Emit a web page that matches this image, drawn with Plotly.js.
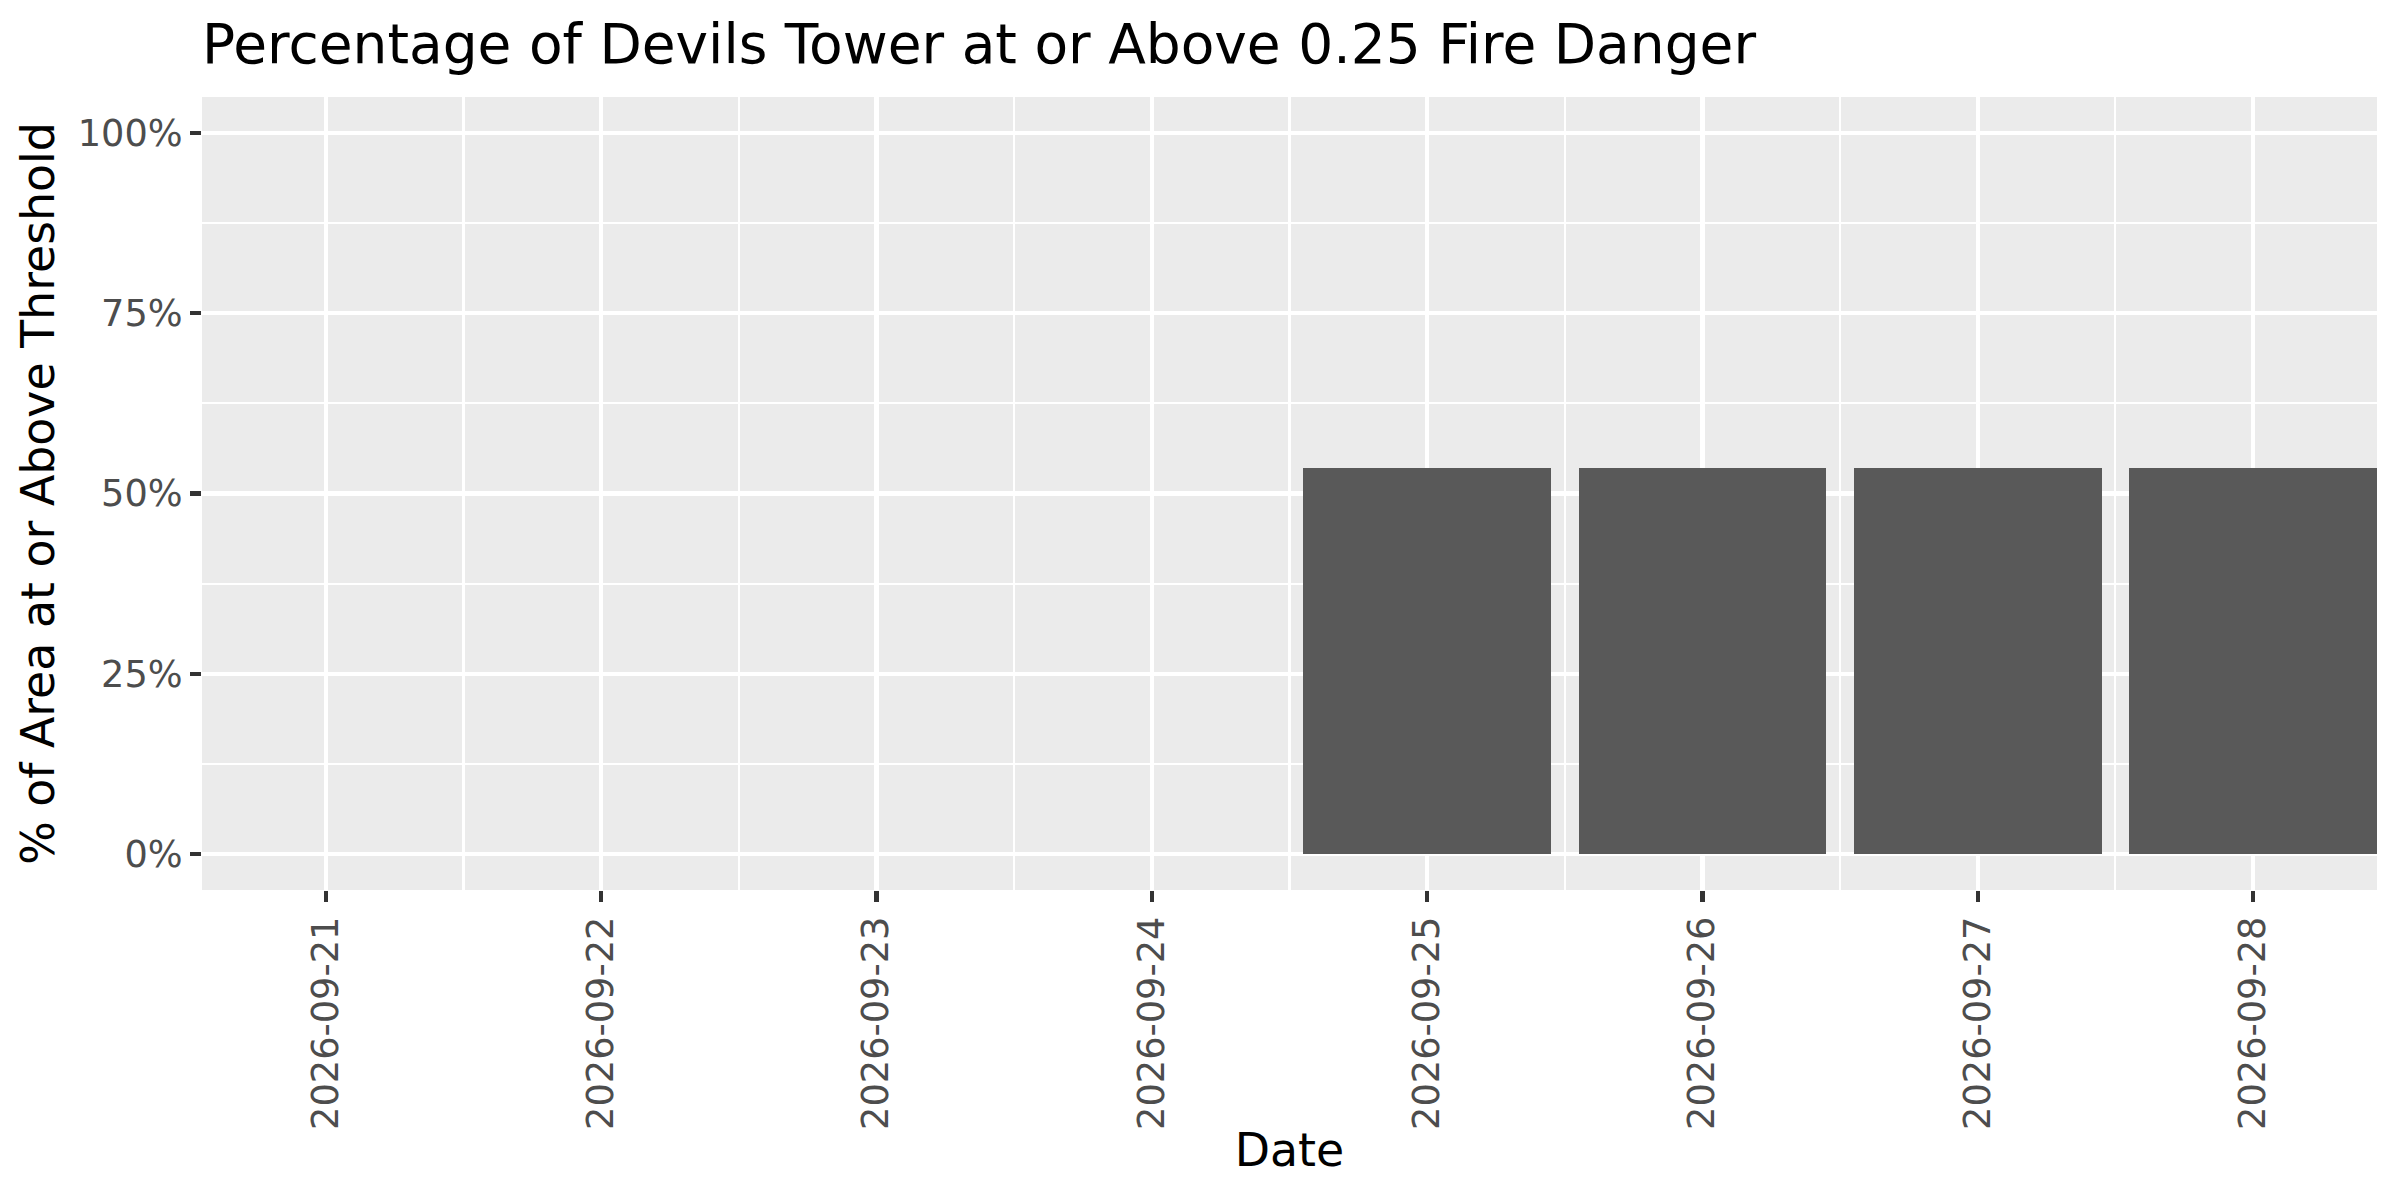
<!DOCTYPE html>
<html>
<head>
<meta charset="utf-8">
<script src="https://cdn.plot.ly/plotly-3.0.1.min.js"></script>
<style>
  html, body { margin: 0; padding: 0; background: #ffffff; }
  #plotly-chart { width: 2400px; height: 1200px; }
</style>
</head>
<body>
<div id="plotly-chart"></div>
<script>
const dates = ['2026-09-21', '2026-09-22', '2026-09-23', '2026-09-24',
               '2026-09-25', '2026-09-26', '2026-09-27', '2026-09-28'];
const pctAbove = [0, 0, 0, 0, 53.5, 53.5, 53.5, 53.5];
const yTickVals = [0, 25, 50, 75, 100];
const yTickText = ['0%', '25%', '50%', '75%', '100%'];

const DAY = 24 * 60 * 60 * 1000;

function drawChart() {
    const bars = {
        x: dates,
        y: pctAbove,
        type: 'bar',
        width: 0.9 * DAY,
        marker: { color: '#595959', line: { width: 0 } },
        hoverinfo: 'skip',
    };

    const tickFont = { family: 'DejaVu Sans', size: 36.7, color: '#4D4D4D' };
    const titleFont = { family: 'DejaVu Sans', size: 45.8, color: '#000000' };

    const layout = {
        width: 2400,
        height: 1200,
        paper_bgcolor: '#ffffff',
        plot_bgcolor: '#EBEBEB',
        margin: { t: 97, r: 23, b: 310, l: 202 },
        showlegend: false,
        bargap: 0,

        title: {
            text: 'Percentage of Devils Tower at or Above 0.25 Fire Danger',
            font: { family: 'DejaVu Sans', size: 55, color: '#000000' },
            xref: 'paper',
            x: 0,
            xanchor: 'left',
            yref: 'container',
            y: 1 - 63 / 1200,
            yanchor: 'bottom',
        },

        xaxis: {
            type: 'date',
            range: ['2026-09-20 13:12', '2026-09-28 10:48'],
            tick0: '2026-09-21',
            dtick: DAY,
            tickformat: '%Y-%m-%d',
            tickangle: -90,
            tickfont: tickFont,
            ticks: 'outside',
            ticklen: 11,
            tickwidth: 4.3,
            tickcolor: '#333333',
            showgrid: true,
            gridcolor: '#ffffff',
            gridwidth: 4.3,
            zeroline: false,
            showline: false,
            automargin: false,
            minor: {
                tick0: '2026-09-20 12:00',
                dtick: DAY,
                showgrid: true,
                gridcolor: '#ffffff',
                gridwidth: 2.1,
                ticks: '',
            },
            title: { text: 'Date', font: titleFont, standoff: 5 },
        },
        yaxis: {
            range: [-5, 105],
            tickvals: yTickVals,
            ticktext: yTickText,
            tickfont: tickFont,
            ticks: 'outside',
            ticklen: 11,
            tickwidth: 4.3,
            tickcolor: '#333333',
            showgrid: true,
            gridcolor: '#ffffff',
            gridwidth: 4.3,
            zeroline: false,
            showline: false,
            automargin: false,
            minor: {
                tick0: 12.5,
                dtick: 25,
                showgrid: true,
                gridcolor: '#ffffff',
                gridwidth: 2.1,
                ticks: '',
            },
            title: { text: '% of Area at or Above Threshold', font: titleFont, standoff: 8 },
        },
    };

    const config = {
        responsive: false,
        displayModeBar: false,
        staticPlot: true,
    };

    Plotly.newPlot('plotly-chart', [bars], layout, config);
}

drawChart();
</script>
</body>
</html>
